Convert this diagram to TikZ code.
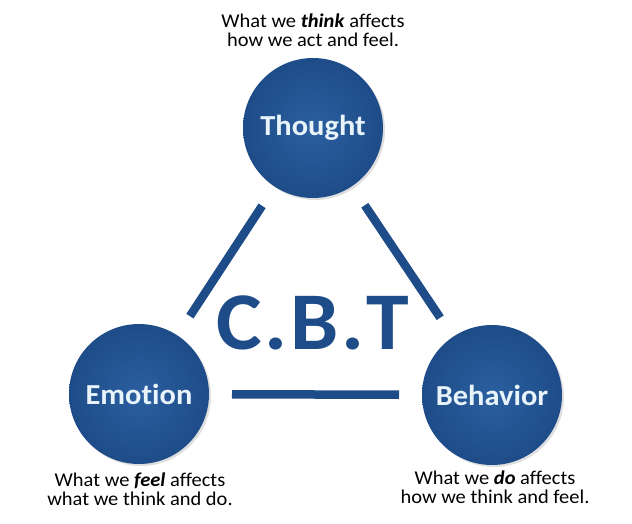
\documentclass[tikz,border=0pt]{standalone}
\usepackage{fontspec}
\setmainfont{Carlito}[Ligatures=NoCommon, FakeStretch=1.05]
\usetikzlibrary{shadows}
\definecolor{cbtblue}{HTML}{1E4C88}
\definecolor{cbtlight}{HTML}{2B5FA0}
\definecolor{cbttext}{HTML}{E8F3FA}

\begin{document}
\begin{tikzpicture}[x=1pt, y=-1pt,
  part/.style={circle, minimum size=140pt, inner sep=0pt, outer sep=0pt,
               shading=radial, inner color=cbtlight, outer color=cbtblue,
               drop shadow={opacity=0.25, shadow xshift=2pt, shadow yshift=-2pt},
               text=cbttext, font=\fontsize{29}{30}\selectfont\bfseries},
  note/.style={align=center, text=black, font=\fontsize{19.5}{19.5}\selectfont},
  bar/.style={draw=cbtblue, line width=8.5pt, shorten <=23pt, shorten >=23pt}]
  \useasboundingbox (0,0) rectangle (632,524);
  \node[part] (thought) at (313,128) {Thought};
  \node[part] (emotion) at (139,394) {Emotion};
  \node[part] (behavior) at (492,395) {Behavior};
  \node[note] (thinknote) at (313,30) {What we \textbf{\textit{think}} affects\\ how we act and feel.};
  \node[note] (feelnote) at (140,489) {What we \textbf{\textit{feel}} affects\\ what we think and do.};
  \node[note] (donote) at (495,487) {What we \textbf{\textit{do}} affects\\ how we think and feel.};
  \node[text=cbtblue, font=\fontsize{82}{82}\selectfont\bfseries] (cbt) at (313,323)
    {C\kern2.5pt.\kern2.5pt B\kern2.5pt.\kern2.5pt T};
  \draw[bar] (thought) -- (emotion);
  \draw[bar] (thought) -- (behavior);
  \draw[bar] (emotion) -- (behavior);
\end{tikzpicture}
\end{document}
